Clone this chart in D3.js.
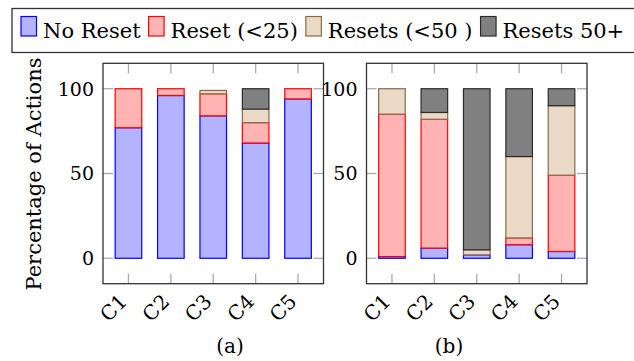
<!DOCTYPE html>
<html>
<head>
<meta charset="utf-8">
<script src="https://cdn.jsdelivr.net/npm/d3@7"></script>
<style>
  body { margin: 0; background: #fff; }
  svg { display: block; }
</style>
</head>
<body>
<svg id="chart" width="634" height="361" font-family="DejaVu Serif, serif"></svg>
<script>
var categories = ["C1", "C2", "C3", "C4", "C5"];
var seriesNames = ["No Reset", "Reset (<25)", "Resets (<50 )", "Resets 50+"];

// panel (a)
var noResetA = [77, 96, 84, 68, 94];
var resetA = [23, 4, 13, 12, 6];
var resetsLt50A = [0, 0, 2, 8, 0];
var resets50PlusA = [0, 0, 0, 12, 0];

// panel (b)
var noResetB = [1, 6, 2, 8, 4];
var resetB = [84, 76, 0, 4, 45];
var resetsLt50B = [15, 4, 3, 48, 41];
var resets50PlusB = [0, 14, 95, 40, 10];

var yTicks = [0, 50, 100];
var captions = ["(a)", "(b)"];

var fills = ["#b3b3ff", "#ffb3b3", "#ead9c6", "#808080"];
var strokes = ["#0000ff", "#ff0000", "#8c6a48", "#2a2a2a"];

var svg = d3.select("#chart");

function toRows(cols) {
    return categories.map(function (c, i) {
        var row = {cat: c};
        seriesNames.forEach(function (s, j) { row[s] = cols[j][i]; });
        return row;
    });
}

var y = d3.scaleLinear().domain([-15, 115]).range([283.7, 63.3]);

function buildPanel(rows, left, caption, captionX) {
    var right = left + 220.5,
        top = y(115), bottom = y(-15);

    var x = d3.scaleBand().domain(categories).range([left, right])
        .paddingInner(0.373).paddingOuter(0.287);

    var g = svg.append("g");

    // ticks (inside, grey)
    yTicks.forEach(function (t) {
        g.append("line").attr("x1", left).attr("x2", left + 10)
            .attr("y1", y(t)).attr("y2", y(t))
            .attr("stroke", "#aaa").attr("stroke-width", 1.3);
        g.append("line").attr("x1", right - 10).attr("x2", right)
            .attr("y1", y(t)).attr("y2", y(t))
            .attr("stroke", "#aaa").attr("stroke-width", 1.3);
    });
    categories.forEach(function (c) {
        var cx = x(c) + x.bandwidth() / 2;
        g.append("line").attr("x1", cx).attr("x2", cx)
            .attr("y1", top).attr("y2", top + 10)
            .attr("stroke", "#aaa").attr("stroke-width", 1.3);
        g.append("line").attr("x1", cx).attr("x2", cx)
            .attr("y1", bottom - 10).attr("y2", bottom)
            .attr("stroke", "#aaa").attr("stroke-width", 1.3);
    });

    var stack = d3.stack().keys(seriesNames)(rows);

    stack.forEach(function (layer, j) {
        g.selectAll(".bar" + j)
            .data(layer.filter(function (d) { return d[1] - d[0] > 0; }))
            .enter().append("rect")
            .attr("x", function (d) { return x(d.data.cat); })
            .attr("y", function (d) { return y(d[1]); })
            .attr("width", x.bandwidth())
            .attr("height", function (d) { return y(d[0]) - y(d[1]); })
            .attr("fill", fills[j])
            .attr("stroke", strokes[j])
            .attr("stroke-width", 1.2);
    });

    // frame
    g.append("rect").attr("x", left).attr("y", top)
        .attr("width", right - left).attr("height", bottom - top)
        .attr("fill", "none").attr("stroke", "#333").attr("stroke-width", 1.3);

    // y tick labels
    g.selectAll(".ylab").data(yTicks).enter().append("text")
        .attr("x", left - 9)
        .attr("y", function (d) { return y(d); })
        .attr("dy", "0.36em")
        .attr("text-anchor", "end")
        .attr("font-size", 19)
        .text(function (d) { return d; });

    // x tick labels, rotated
    g.selectAll(".xlab").data(categories).enter().append("text")
        .attr("transform", function (d) {
            return "translate(" + (x(d) + x.bandwidth() / 2 - 5) + "," + 298 + ") rotate(-45)";
        })
        .attr("dy", "0.34em")
        .attr("text-anchor", "end")
        .attr("font-size", 20)
        .text(function (d) { return d; });

    svg.append("text").attr("x", captionX).attr("y", 353)
        .attr("text-anchor", "middle")
        .attr("font-size", 20)
        .text(caption);
}

buildPanel(toRows([noResetA, resetA, resetsLt50A, resets50PlusA]), 103, captions[0], 230);
buildPanel(toRows([noResetB, resetB, resetsLt50B, resets50PlusB]), 366.5, captions[1], 449);

// y axis title
svg.append("text")
    .attr("transform", "translate(41,174) rotate(-90)")
    .attr("text-anchor", "middle")
    .attr("font-size", 21)
    .text("Percentage of Actions");

// legend
var legend = svg.append("g");
legend.append("rect").attr("x", 12).attr("y", 8.5)
    .attr("width", 640).attr("height", 44)
    .attr("fill", "#fff").attr("stroke", "#333").attr("stroke-width", 1.3);

var lx = 21;
seriesNames.forEach(function (s, j) {
    legend.append("rect").attr("x", lx).attr("y", 16.5)
        .attr("width", 15.5).attr("height", 19.5)
        .attr("fill", fills[j]).attr("stroke", strokes[j]).attr("stroke-width", 1.2);
    var t = legend.append("text").attr("x", lx + 22).attr("y", 37.5)
        .attr("font-size", 21)
        .text(s);
    lx += 22 + t.node().getComputedTextLength() + 8;
});
</script>
</body>
</html>
